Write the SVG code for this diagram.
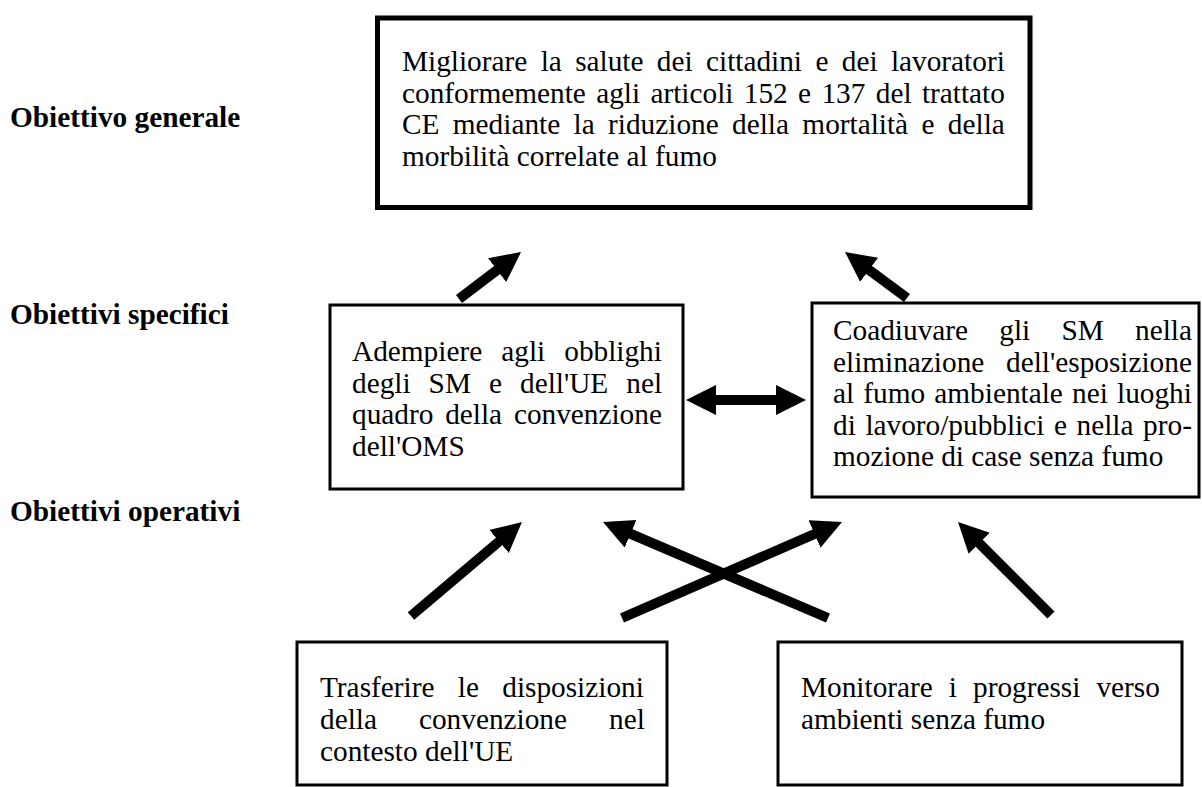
<svg xmlns="http://www.w3.org/2000/svg" width="1202" height="787" viewBox="0 0 1202 787">
<style>
.box{fill:#fff;stroke:#000;stroke-width:3}
.thick{stroke-width:5}
.t{font-family:"Liberation Serif","Times New Roman",serif;font-size:29.3px;fill:#000}
.lbl{font-family:"Liberation Serif","Times New Roman",serif;font-size:29.3px;font-weight:bold;fill:#000}
.arr{stroke:#000;stroke-width:10;fill:none;marker-end:url(#head)}
</style>
<defs>
<marker id="head" markerUnits="userSpaceOnUse" markerWidth="32" markerHeight="32" refX="5" refY="15" orient="auto-start-reverse">
<path d="M0,0 L30,15 L0,30 Z" fill="#000"/>
</marker>
</defs>
<rect width="1202" height="787" fill="#fff"/>
<g id="labels">
<text class="lbl" x="10" y="127">Obiettivo generale</text>
<text class="lbl" x="10" y="324">Obiettivi specifici</text>
<text class="lbl" x="10" y="521">Obiettivi operativi</text>
</g>
<g id="node-generale">
<rect class="box thick" x="377.5" y="18" width="652.5" height="189.5"/>
<text class="t" x="402" y="71" word-spacing="6.04">Migliorare la salute dei cittadini e dei lavoratori</text>
<text class="t" x="402" y="102.5" word-spacing="3.03">conformemente agli articoli 152 e 137 del trattato</text>
<text class="t" x="402" y="134" word-spacing="6.04">CE mediante la riduzione della mortalità e della</text>
<text class="t" x="402" y="165.5">morbilità correlate al fumo</text>
</g>
<g id="node-oms">
<rect class="box" x="330" y="305" width="353" height="184"/>
<text class="t" x="352" y="361" word-spacing="11.76">Adempiere agli obblighi</text>
<text class="t" x="352" y="392.5" word-spacing="10.7">degli SM e dell'UE nel</text>
<text class="t" x="352" y="424" word-spacing="4.47">quadro della convenzione</text>
<text class="t" x="352" y="455.5">dell'OMS</text>
</g>
<g id="node-fumo">
<rect class="box" x="812" y="303" width="387" height="194"/>
<text class="t" x="833" y="340" word-spacing="23.9">Coadiuvare gli SM nella</text>
<text class="t" x="833" y="371.5" word-spacing="14.4">eliminazione dell'esposizione</text>
<text class="t" x="833" y="403" word-spacing="1.85">al fumo ambientale nei luoghi</text>
<text class="t" x="833" y="434.5" word-spacing="2.27">di lavoro/pubblici e nella pro-</text>
<text class="t" x="833" y="466">mozione di case senza fumo</text>
</g>
<g id="node-trasferire">
<rect class="box" x="297" y="642" width="370" height="143"/>
<text class="t" x="320" y="697" word-spacing="16">Trasferire le disposizioni</text>
<text class="t" x="320" y="729" word-spacing="34.7">della convenzione nel</text>
<text class="t" x="320" y="761">contesto dell'UE</text>
</g>
<g id="node-monitorare">
<rect class="box" x="778" y="642" width="404" height="143"/>
<text class="t" x="801" y="697" word-spacing="8.7">Monitorare i progressi verso</text>
<text class="t" x="801" y="729">ambienti senza fumo</text>
</g>
<g id="connectors">
<line class="arr" x1="459" y1="299" x2="501.1" y2="267.1"/>
<line class="arr" x1="907" y1="298" x2="865.1" y2="266.9"/>
<line class="arr" x1="711" y1="400" x2="781" y2="400" style="marker-start:url(#head)"/>
<line class="arr" x1="411" y1="616" x2="502.9" y2="538.2"/>
<line class="arr" x1="622" y1="618" x2="819.1" y2="532"/>
<line class="arr" x1="828" y1="618" x2="626" y2="531.8"/>
<line class="arr" x1="1051" y1="615" x2="975.7" y2="539.7"/>
</g>
</svg>
